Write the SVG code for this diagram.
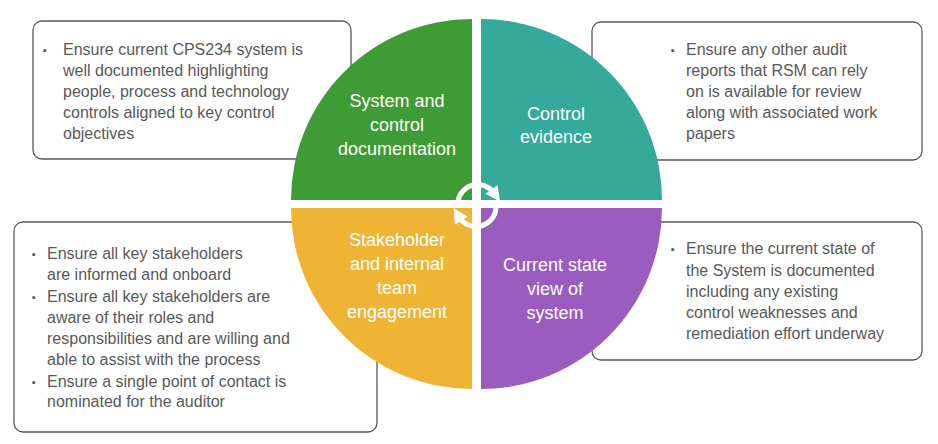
<svg xmlns="http://www.w3.org/2000/svg" width="938" height="444" viewBox="0 0 938 444">
<style>
.box{fill:#fff;stroke:#595959;stroke-width:1.3}
.t{font-family:"Liberation Sans",Arial,sans-serif;font-size:16px;fill:#595959}
.b{font-family:"Liberation Sans",Arial,sans-serif;font-size:11px;fill:#595959}
.q{font-family:"Liberation Sans",Arial,sans-serif;font-size:18px;fill:#fff;text-anchor:middle}
.arc{fill:none;stroke:#fff;stroke-width:5}
</style>
<defs><marker id="ah" viewBox="0 0 10 10" refX="3" refY="5" markerWidth="3" markerHeight="3" orient="auto"><path d="M0,0L10,5L0,10z" fill="#fff"/></marker></defs>
<g id="box-tl"><rect class="box" x="33" y="21" width="318" height="138" rx="9"/>
<text class="b" x="43" y="54">▪</text>
<text class="t" x="63" y="55">Ensure current CPS234 system is</text>
<text class="t" x="63" y="76">well documented highlighting</text>
<text class="t" x="63" y="97">people, process and technology</text>
<text class="t" x="63" y="118">controls aligned to key control</text>
<text class="t" x="63" y="139">objectives</text></g>
<g id="box-tr"><rect class="box" x="592" y="22" width="330" height="138" rx="9"/>
<text class="b" x="671" y="54">▪</text>
<text class="t" x="686" y="55">Ensure any other audit</text>
<text class="t" x="686" y="76">reports that RSM can rely</text>
<text class="t" x="686" y="97">on is available for review</text>
<text class="t" x="686" y="118">along with associated work</text>
<text class="t" x="686" y="139">papers</text></g>
<g id="box-bl"><rect class="box" x="14" y="222" width="363" height="210" rx="9"/>
<text class="b" x="32" y="258">▪</text>
<text class="t" x="47" y="259">Ensure all key stakeholders</text>
<text class="t" x="47" y="280">are informed and onboard</text>
<text class="b" x="32" y="301">▪</text>
<text class="t" x="47" y="302">Ensure all key stakeholders are</text>
<text class="t" x="47" y="323">aware of their roles and</text>
<text class="t" x="47" y="344">responsibilities and are willing and</text>
<text class="t" x="47" y="365">able to assist with the process</text>
<text class="b" x="32" y="386">▪</text>
<text class="t" x="47" y="387">Ensure a single point of contact is</text>
<text class="t" x="47" y="407">nominated for the auditor</text></g>
<g id="box-br"><rect class="box" x="592" y="222" width="330" height="138" rx="9"/>
<text class="b" x="671" y="253">▪</text>
<text class="t" x="686" y="254">Ensure the current state of</text>
<text class="t" x="686" y="276">the System is documented</text>
<text class="t" x="686" y="297">including any existing</text>
<text class="t" x="686" y="318">control weaknesses and</text>
<text class="t" x="686" y="339">remediation effort underway</text></g>
<g id="q-green"><path d="M472,200L291,200A181,181 0 0 1 472,19Z" fill="#3f9b35"/>
<text class="q" x="397" y="107">System and</text><text class="q" x="397" y="131">control</text><text class="q" x="397" y="155">documentation</text></g>
<g id="q-teal"><path d="M481,200L481,19A181,181 0 0 1 662,200Z" fill="#35a99a"/>
<text class="q" x="556" y="120">Control</text><text class="q" x="556" y="143">evidence</text></g>
<g id="q-yellow"><path d="M472,208L472,389A181,181 0 0 1 291,208Z" fill="#f0b434"/>
<text class="q" x="397" y="246">Stakeholder</text><text class="q" x="397" y="270">and internal</text><text class="q" x="397" y="294">team</text><text class="q" x="397" y="318">engagement</text></g>
<g id="q-purple"><path d="M481,208L662,208A181,181 0 0 1 481,389Z" fill="#9b5cc0"/>
<text class="q" x="555" y="271">Current state</text><text class="q" x="555" y="295">view of</text><text class="q" x="555" y="319">system</text></g>
<g id="connectors">
<path class="arc" d="M458,201A20,20 0 0 1 494,193" marker-end="url(#ah)"/>
<path class="arc" d="M496,208A20,20 0 0 1 459,217" marker-end="url(#ah)"/>
</g>
</svg>
